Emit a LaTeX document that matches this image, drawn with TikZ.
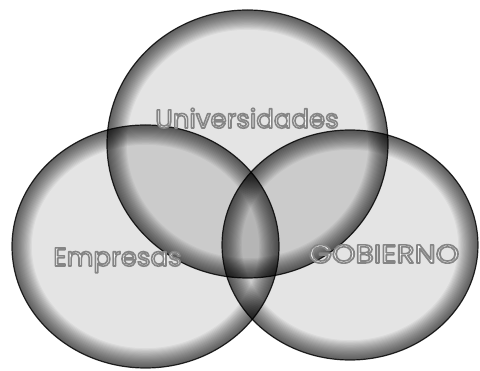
\documentclass[tikz,border=0pt]{standalone}
\usepackage{fontspec}
\setmainfont{Poppins}
\newcommand{\outl}[1]{\special{pdf:literal direct 0.52 0.52 0.52 RG 1.6 w 1 j 2 Tr}#1\special{pdf:literal direct 0 Tr}}
\begin{document}
\begin{tikzpicture}[x=1pt,y=-1pt,
  lbl/.style={font=\fontsize{26}{30}\selectfont, text=white, inner sep=0pt, anchor=base},
  fillset/.style={fill=black, fill opacity=0.105},
  rimline/.style={draw=black, draw opacity=0.8, line width=1.2pt}]
\useasboundingbox (0,0) rectangle (480,371);
\fill[white] (0,0) rectangle (480,371);
% ellipse centres
\coordinate (cu) at (247.5,144);
\coordinate (ce) at (145.5,246.5);
\coordinate (cg) at (350,245);
\def\uell{(cu) ellipse [x radius=140.5pt, y radius=134pt]}
\def\eell{(ce) ellipse [x radius=133.5pt, y radius=121.5pt]}
\def\gell{(cg) ellipse [x radius=128pt, y radius=115pt]}
% fills
\fill[fillset] \uell;
\fill[fillset] \eell;
\fill[fillset] \gell;
% rim shading
\foreach \E in {\uell,\eell,\gell}{
  \begin{scope}
    \clip \E;
    \foreach \i in {1,...,18}{
      \draw[black, draw opacity=0.042, line width=2.2*\i pt] \E;
    }
  \end{scope}
  \draw[rimline] \E;
}
% labels
\node[lbl] (univ) at (247,128) {\outl{Universidades}};
\node[lbl] (emp) at (117.5,266) {\outl{Empresas}};
\node[lbl, xscale=1.15] (gob) at (384,263) {\outl{GOBIERNO}};
\end{tikzpicture}
\end{document}
